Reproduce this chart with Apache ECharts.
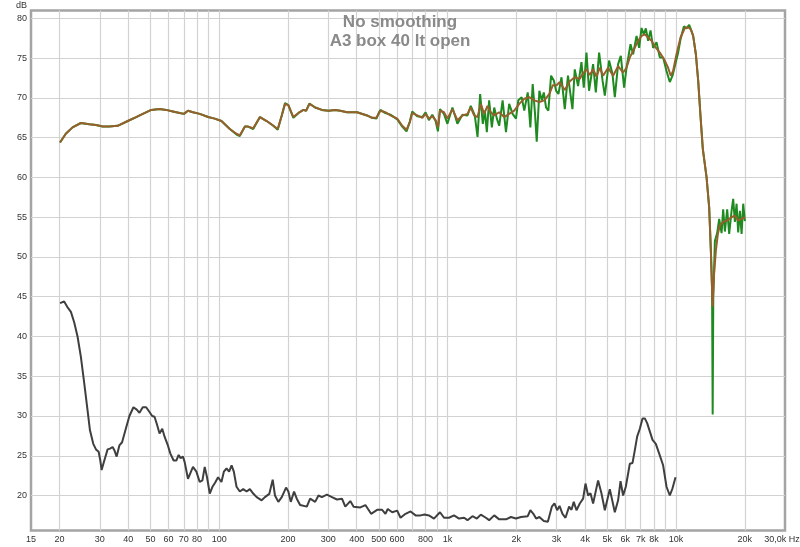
<!DOCTYPE html>
<html><head><meta charset="utf-8">
<script src="https://cdn.jsdelivr.net/npm/echarts@6/dist/echarts.min.js"></script>
<style>html,body{margin:0;padding:0;background:#fff}#c{width:800px;height:547px}</style>
</head><body><div id="c"></div>
<script>
// Frequency response, smoothed (brown)
const brownFreq = [20.1,21.3,22.8,24.8,27.0,28.9,30.9,33.0,35.9,39.8,43.3,46.3,50.4,54.8,58.6,62.7,67.1,70.1,73.0,76.8,82.2,89.4,95.6,102.3,111.3,119.1,123.1,129.6,133.9,140.9,150.8,161.4,172.6,180.4,187.9,194.2,200.8,211.2,224.4,233.7,240.2,248.4,263.1,281.6,301,322.1,338.8,362.7,401.3,443.9,467,487.9,499.4,508,534.5,562,601.7,632.9,661,683.5,700.4,736.5,774.7,801,828.4,857.3,886.5,907.4,926,964.3,998,1050,1104,1161,1222,1263,1306,1352,1398,1445,1495,1546,1600,1682,1769,1860,1958,2059,2166,2277,2396,2522,2652,2790,2889,3000,3090,3258,3428,3603,3785,3920,4055,4192,4335,4486,4638,4796,5043,5304,5578,5866,6071,6277,6536,6827,7065,7303,7550,7814,8075,8491,8930,9233,9488,9711,10049,10467,10931,11303,11614,11887,12215,12502,12808,13100,13607,13969,14210,14457,14648,14945,15250,15561,16086,16748,17508,18103,18715,19369,20020];
const brownDb = [64.4,65.5,66.3,66.85,66.7,66.6,66.4,66.4,66.5,67.1,67.6,68.0,68.5,68.6,68.5,68.3,68.1,68.0,68.4,68.2,68.0,67.6,67.4,67.1,66.1,65.5,65.3,66.4,66.4,66.2,67.6,67.1,66.5,66.1,67.8,69.25,69.1,67.6,68.2,68.5,68.4,69.25,68.8,68.5,68.4,68.5,68.4,68.2,68.2,67.8,67.5,67.5,68.0,68.4,68.2,67.8,67.4,66.5,66.0,67.0,68.1,67.8,67.5,68.0,67.4,67.7,67.2,66.3,68.4,68.2,67.4,68.6,67.2,67.8,68.0,68.8,67.8,67.6,69.25,68.0,69.0,68.2,67.8,68.2,67.6,68.0,68.4,69.25,69.9,70.1,69.7,69.5,69.7,70.5,71.6,71.6,72.0,71.0,72.1,72.6,72.4,73.1,73.6,72.9,73.6,72.7,73.8,72.8,73.8,72.8,74.0,73.2,73.8,75.1,76.1,77.2,77.8,78.0,77.6,77.2,76.5,75.7,74.7,73.8,72.8,73.4,75.5,77.6,78.8,78.9,78.6,77.8,75.5,72.2,67.6,63.6,60.0,56.25,50.8,43.75,47.5,50.8,52.9,54.0,54.4,54.6,55.0,55.2,54.6,54.8,55.0];

// Frequency response, no smoothing (green)
const greenFreq = [20.1,21.3,22.8,24.8,27.0,28.9,30.9,33.0,35.9,39.8,43.3,46.3,50.4,54.8,58.6,62.7,67.1,70.1,73.0,76.8,82.2,89.4,95.6,102.3,111.3,119.1,123.1,129.6,133.9,140.9,150.8,161.4,172.6,180.4,187.9,194.2,200.8,211.2,224.4,233.7,240.2,248.4,263.1,281.6,301,322.1,338.8,362.7,401.3,443.9,467,487.9,499,508,534,562,602,633,661,683,700,736,775,801,828,857,886,907,926,964,998,1050,1104,1161,1222,1263,1315,1352,1388,1426,1456,1485,1520,1562,1600,1643,1682,1741,1801,1860,1926,1992,2039,2110,2166,2243,2303,2358,2414,2456,2522,2584,2637,2698,2761,2838,2918,2986,3056,3152,3258,3365,3520,3603,3725,3855,3946,4055,4162,4335,4455,4606,4767,4879,5093,5271,5396,5578,5732,5925,6071,6322,6490,6717,6896,7065,7229,7377,7550,7735,7940,8216,8491,8781,9087,9393,9653,9880,10216,10467,10823,11120,11418,11697,11887,12215,12502,12808,13100,13607,13969,14210,14380,14470,14560,14648,14795,15142,15452,15830,16086,16366,16748,17090,17508,17793,18103,18413,18715,19039,19369,19685,20020];
const greenDb = [64.4,65.5,66.3,66.85,66.7,66.6,66.4,66.4,66.5,67.1,67.6,68.0,68.5,68.6,68.5,68.3,68.1,68.0,68.4,68.2,68.0,67.6,67.4,67.1,66.1,65.4,65.2,66.4,66.4,66.1,67.6,67.1,66.5,66.0,67.8,69.35,69.1,67.5,68.2,68.5,68.4,69.3,68.8,68.5,68.4,68.5,68.4,68.2,68.2,67.8,67.5,67.4,68.1,68.5,68.1,67.9,67.3,66.4,65.8,67.0,68.3,67.7,67.6,68.2,67.2,67.9,67.1,65.8,68.6,68.0,66.75,68.8,66.75,67.9,67.8,69.0,67.8,65.1,70.5,66.75,68.4,65.7,69.7,66.3,68.8,67.4,66.5,69.7,65.7,69.25,68.0,67.4,69.7,70.1,68.4,70.7,66.3,71.75,68.0,64.5,70.9,69.7,70.7,68.8,68.4,72.8,72.2,70.9,70.5,72.6,68.6,72.8,68.6,73.6,71.5,74.5,71.3,75.7,70.9,74.25,70.7,75.7,72.2,70.3,74.7,73.0,70.1,74.25,75.3,71.3,73.8,76.75,75.5,77.8,76.3,78.8,78.0,78.75,77.2,78.5,76.3,77.0,75.1,75.1,73.4,72.0,72.8,74.0,75.7,77.4,79.0,78.75,79.2,78.4,77.8,75.5,72.2,67.6,63.6,60.0,56.25,50.8,46.0,30.2,45.0,47.5,52.0,53.0,54.8,53.0,56.0,53.2,56.0,52.9,55.8,57.3,54.4,56.7,53.1,55.8,52.9,56.7,54.5];

// Lower curve (dark grey)
const grayFreq = [20.1,20.95,21.65,22.43,23.18,23.98,24.81,25.66,26.53,27.18,28.10,28.88,29.66,30.17,30.57,31.41,32.47,33.27,34.16,34.75,35.57,36.56,37.57,38.85,40.45,42.12,43.55,44.76,46.28,47.90,49.53,50.90,52.10,53.33,54.81,56.33,57.66,59.62,61.08,63.16,64.91,66.44,67.80,69.40,70.61,72.99,76.78,79.46,82.16,84.44,86.43,88.46,90.92,93.43,95.93,98.88,102.3,104.8,107.7,110.5,113.3,115.9,119.1,123.1,127.4,131.8,136.3,140.9,145.9,153.4,158.6,165.7,171.5,175.5,181.5,187.9,196.2,200.8,205.8,212.7,218.6,226.1,241.9,250.1,263.1,272.0,281.6,296.2,311.6,327.8,344.8,356.5,375.0,387.7,415.0,436.6,462.5,491.4,516.9,534.5,547.0,572.0,601.7,622.1,654.4,688.4,724.0,761.6,793.0,828.4,871.4,926.0,964.3,1014,1067,1122,1181,1222,1285,1343,1398,1471,1520,1600,1682,1801,1894,1992,2095,2243,2303,2374,2440,2522,2637,2747,2860,2936,3018,3090,3184,3282,3403,3486,3567,3666,3791,3920,4015,4122,4222,4335,4559,4718,4879,5130,5396,5578,5716,5866,6028,6277,6451,6603,6758,6944,7135,7303,7475,7626,7892,8157,8433,8781,9087,9393,9653,9951];
const grayDb = [44.2,44.4,43.7,43.1,41.8,40.0,37.4,34.1,30.7,28.2,26.5,25.8,25.5,24.4,23.2,24.4,25.8,25.9,26.1,25.7,24.9,26.3,26.7,28.2,30.0,31.1,30.8,30.4,31.1,31.1,30.5,30.0,29.9,29.0,27.8,28.4,27.4,26.3,25.3,24.4,24.4,25.1,24.7,24.9,24.2,22.1,23.6,23.0,21.7,21.9,23.6,22.3,20.25,21.1,21.6,22.3,21.7,23.0,23.4,23.0,23.8,23.0,21.1,20.5,20.8,20.5,20.8,20.25,19.8,19.4,19.8,20.2,22.0,20.0,19.2,19.8,21.0,20.5,19.2,20.5,19.6,18.8,18.6,19.6,19.2,20.0,19.8,20.1,19.8,19.5,19.6,18.6,19.3,18.6,18.5,18.8,17.7,18.2,18.2,17.7,18.3,17.9,18.1,17.2,17.7,18.0,17.5,17.5,17.6,17.5,17.1,17.9,17.2,17.2,17.5,17.1,17.2,16.9,17.4,17.1,17.6,17.2,16.9,17.5,17.0,17.0,17.3,17.1,17.3,17.4,18.15,17.7,17.1,17.3,16.8,16.7,18.6,19.0,18.15,18.7,17.7,17.2,18.6,18.2,19.2,18.15,19.0,19.6,21.5,20.0,20.3,19.0,21.9,20.25,18.15,20.8,17.9,19.4,21.8,20.0,21.1,24.0,24.1,25.7,27.4,28.4,29.7,29.7,29.1,29.0,27.0,26.5,25.3,23.8,21.1,20.0,20.9,22.3];

// Axis ticks
const xGridValues = [20,30,40,50,60,70,80,90,100,200,300,400,500,600,700,800,900,1000,2000,3000,4000,5000,6000,7000,8000,9000,10000,20000];
const xLabelValues = [15,20,30,40,50,60,70,80,100,200,300,400,500,600,800,1000,2000,3000,4000,5000,6000,7000,8000,10000,20000,30000];
const yTickValues = [20,25,30,35,40,45,50,55,60,65,70,75,80];
const titleLines = ['No smoothing','A3 box 40 lt open'];

const pairs = (fs, ds) => fs.map((f, i) => [f, ds[i]]);
const fmtHz = v => {
  const r = Math.round(v);
  if (r >= 30000) return '{last|30,0k Hz}';
  if (r >= 1000) return (r / 1000) + 'k';
  return String(r);
};

const chart = echarts.init(document.getElementById('c'), null, {renderer: 'canvas'});
chart.setOption({
  animation: false,
  backgroundColor: '#ffffff',
  title: {
    text: titleLines.join('\n'), left: 'center', top: 8,
    textStyle: {fontFamily: 'Liberation Sans', fontSize: 17, fontWeight: 'bold', color: '#8a8a8a', lineHeight: 19}
  },
  graphic: [{type: 'text', left: 16, top: 1, style: {text: 'dB', font: '9px "Liberation Sans"', fill: '#333'}}],
  grid: {left: 31, right: 15, top: 10.5, bottom: 16.5, outerBoundsMode: 'none', containLabel: false, show: true, borderColor: '#a4a4a4', borderWidth: 2.5, backgroundColor: '#fff'},
  xAxis: {
    type: 'log', logBase: 10, min: 15, max: 30000,
    axisLine: {show: false},
    axisTick: {show: false, customValues: xGridValues},
    axisLabel: {
      customValues: xLabelValues, formatter: fmtHz, margin: 5, fontFamily: 'Liberation Sans', fontSize: 9, color: '#333',
      showMinLabel: true, showMaxLabel: true,
      rich: {last: {fontFamily: 'Liberation Sans', fontSize: 9, color: '#333', padding: [0, 6, 0, 0]}}
    },
    splitLine: {show: true, lineStyle: {color: '#d2d2d2', width: 1.2}}
  },
  yAxis: {
    type: 'value', min: 15.6, max: 81,
    axisLine: {show: false},
    axisTick: {show: false, customValues: yTickValues},
    axisLabel: {customValues: yTickValues, margin: 4, fontFamily: 'Liberation Sans', fontSize: 9, color: '#333'},
    splitLine: {show: true, lineStyle: {color: '#d2d2d2', width: 1.2}}
  },
  series: [
    {type: 'line', data: pairs(grayFreq, grayDb), showSymbol: false, lineStyle: {color: '#3f3f3f', width: 2}, z: 3},
    {type: 'line', data: pairs(greenFreq, greenDb), showSymbol: false, lineStyle: {color: '#1f8a1f', width: 2}, z: 4},
    {type: 'line', data: pairs(brownFreq, brownDb), showSymbol: false, lineStyle: {color: '#96602c', width: 2}, z: 5}
  ]
});
</script></body></html>
